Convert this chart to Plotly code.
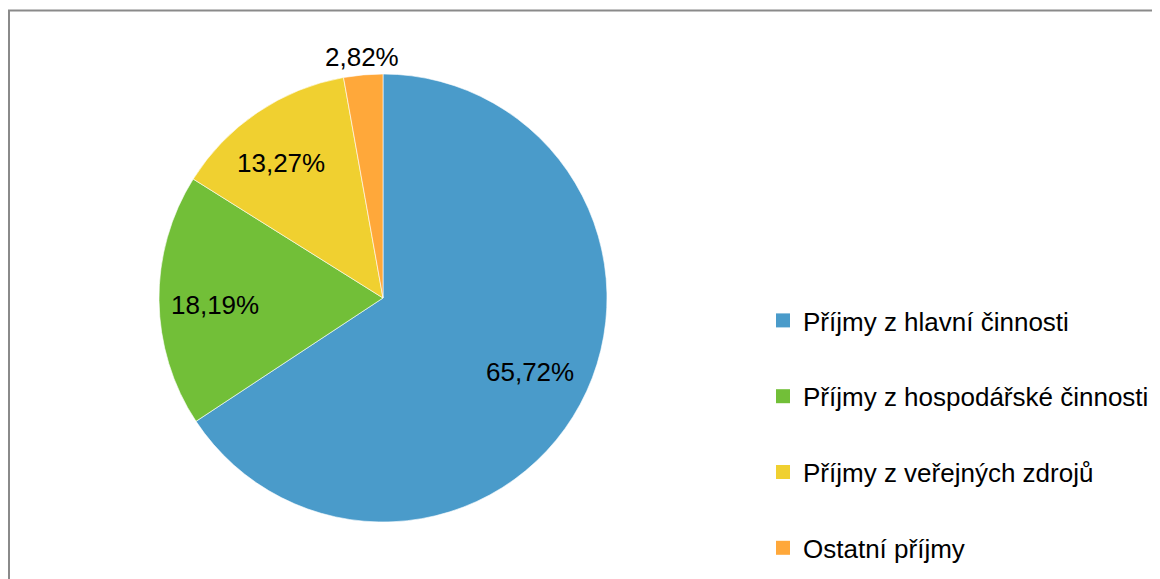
import math
import plotly.graph_objects as go

categories = ["Příjmy z hlavní činnosti", "Příjmy z hospodářské činnosti",
              "Příjmy z veřejných zdrojů", "Ostatní příjmy"]
values = [65.72, 18.19, 13.27, 2.82]
labels_text = ["65,72%", "18,19%", "13,27%", "2,82%"]
colors = ["#4A9BCA", "#72BF38", "#F0D030", "#FFA83A"]
label_radius = [0.739, 0.756, 0.76, 1.083]
label_turn = [-1.8, -1.8, -3.0, 0.0]  # degrees

W, H = 1160, 579
# pie geometry in figure pixels (page has an 8px body margin)
cx, cy, r = 375, 290, 223
rd = 224
FONT = "Liberation Sans, Arial, sans-serif"
FS = 26

fig = go.Figure()
fig.add_trace(go.Pie(
    labels=categories, values=values, sort=False, direction="clockwise",
    rotation=0, marker=dict(colors=colors, line=dict(color="white", width=0.6)),
    textinfo="none", hoverinfo="label+percent", showlegend=False,
    domain=dict(x=[(cx - rd) / W, (cx + rd) / W], y=[1 - (cy + rd) / H, 1 - (cy - rd) / H]),
))

# legend entries
for i, (cat, col) in enumerate(zip(categories, colors)):
    fig.add_trace(go.Scatter(x=[None], y=[None], mode="markers", name=cat,
                             legendgroup=f"g{i}",
                             marker=dict(symbol="square", size=14, color=col)))

# percentage labels placed at mid-angle of each slice
total = sum(values)
cum = 0.0
annotations = []
for v, t, f, d in zip(values, labels_text, label_radius, label_turn):
    mid = (cum + v / 2) / total * 2 * math.pi + math.radians(d)
    cum += v
    px = cx + math.sin(mid) * r * f
    py = cy - math.cos(mid) * r * f
    annotations.append(dict(x=px / W, y=1 - py / H, xref="paper", yref="paper",
                            text=t, showarrow=False,
                            font=dict(family=FONT, size=FS, color="black"),
                            xanchor="center", yanchor="middle"))

fig.update_layout(
    width=W, height=H, margin=dict(l=0, r=0, t=0, b=0),
    paper_bgcolor="white", plot_bgcolor="white",
    xaxis=dict(visible=False), yaxis=dict(visible=False),
    font=dict(family=FONT, size=FS, color="black"),
    annotations=annotations,
    legend=dict(x=755 / W, y=1 - 289 / H, xanchor="left", yanchor="top",
                tracegroupgap=39, font=dict(family=FONT, size=FS, color="black"),
                bgcolor="rgba(0,0,0,0)", itemclick=False),
    shapes=[dict(type="rect", xref="paper", yref="paper",
                 x0=1 / W, x1=1.02, y0=-0.02, y1=1 - 2.5 / H,
                 line=dict(color="#8A8A8A", width=2), fillcolor="rgba(0,0,0,0)")],
)

fig.write_html("out.html")
